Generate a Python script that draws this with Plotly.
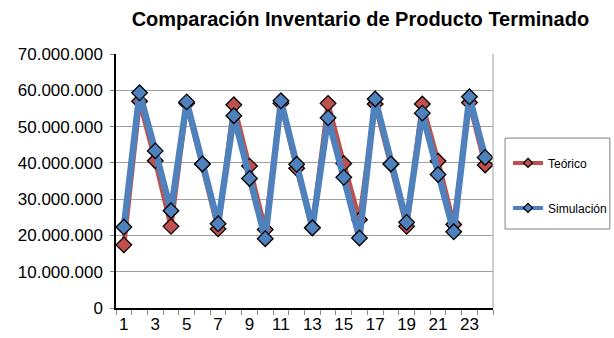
import plotly.graph_objects as go

periodos = list(range(1, 25))
teorico = [17.4, 57.0, 40.6, 22.5, 56.4, 39.7, 21.8, 56.0, 39.1, 21.6, 56.4, 38.5,
           22.1, 56.4, 39.8, 24.3, 56.2, 39.7, 22.5, 56.2, 40.5, 23.0, 56.6, 39.4]
simulacion = [22.3, 59.3, 43.3, 26.8, 56.8, 39.7, 23.2, 53.0, 35.7, 19.1, 57.1, 39.6,
              22.1, 52.4, 36.0, 19.3, 57.6, 39.7, 23.6, 53.7, 36.8, 21.0, 58.2, 41.5]
teorico = [v * 1e6 for v in teorico]
simulacion = [v * 1e6 for v in simulacion]
ytick_vals = [0, 10e6, 20e6, 30e6, 40e6, 50e6, 60e6, 70e6]
ytick_text = ["0", "10.000.000", "20.000.000", "30.000.000", "40.000.000",
              "50.000.000", "60.000.000", "70.000.000"]
xtick_vals = list(range(1, 25, 2))

FONT = "Liberation Sans, Arial, sans-serif"
RED = "#C0504D"
BLUE = "#4F81BD"

fig = go.Figure()
fig.add_trace(go.Scatter(
    x=periodos, y=teorico, name="Teórico", mode="lines+markers",
    line=dict(color=RED, width=5),
    marker=dict(symbol="diamond", size=12, color=RED,
                line=dict(color="black", width=1.3)),
    showlegend=False))
fig.add_trace(go.Scatter(
    x=periodos, y=simulacion, name="Simulación", mode="lines+markers",
    line=dict(color=BLUE, width=6.5),
    marker=dict(symbol="diamond", size=12, color=BLUE,
                line=dict(color="black", width=1.3)),
    showlegend=False))
# legend entries (small markers as in the original legend)
for name, col, grp in [("Teórico", RED, "a"), ("Simulación", BLUE, "b")]:
    fig.add_trace(go.Scatter(
        x=[None], y=[None], name=name, mode="lines+markers",
        line=dict(color=col, width=4),
        marker=dict(symbol="diamond", size=7, color=col,
                    line=dict(color="black", width=1.3)),
        legendgroup=grp, showlegend=True))

fig.update_layout(
    width=614, height=338,
    margin=dict(l=116, r=121, t=54, b=30, autoexpand=False),
    paper_bgcolor="white", plot_bgcolor="white",
    font=dict(family=FONT, color="black"),
    title=dict(text="<b>Comparación Inventario de Producto Terminado</b>",
               x=0.587, xanchor="center", y=0.945, yanchor="middle",
               xref="container", yref="container",
               font=dict(size=20, family=FONT, color="black")),
    legend=dict(x=0.8274, xanchor="left", y=0.561, yanchor="top",
                xref="container", yref="container",
                borderwidth=0, bgcolor="rgba(0,0,0,0)",
                font=dict(size=12, family=FONT),
                tracegroupgap=26, itemwidth=30),
    showlegend=True,
)
fig.update_xaxes(
    range=[0.5, 24.5], tickvals=xtick_vals, ticktext=[str(v) for v in xtick_vals],
    ticks="", showgrid=False, zeroline=False, automargin=False,
    showline=True, linecolor="black", linewidth=1.5,
    tickfont=dict(size=17, family=FONT, color="black"),
    minor=dict(ticks="outside", tick0=0.5, dtick=1, ticklen=5,
               tickcolor="#888888", showgrid=False),
)
fig.update_yaxes(
    range=[0, 70e6], tickvals=ytick_vals, ticktext=ytick_text,
    ticks="outside", ticklen=4, tickcolor="#888888", automargin=False,
    showgrid=True, gridcolor="#A0A0A0", gridwidth=1, zeroline=False,
    showline=True, linecolor="black", linewidth=1.5,
    tickfont=dict(size=17, family=FONT, color="black"),
    ticklabelstandoff=4,
)
fig.add_shape(type="line", xref="paper", yref="paper", x0=1, x1=1, y0=0, y1=1,
              line=dict(color="#A0A0A0", width=1))
fig.add_shape(type="rect", xref="paper", yref="paper",
              x0=1.032, x1=1.310, y0=0.311, y1=0.669,
              line=dict(color="#808080", width=1))

fig.write_html("out.html")
